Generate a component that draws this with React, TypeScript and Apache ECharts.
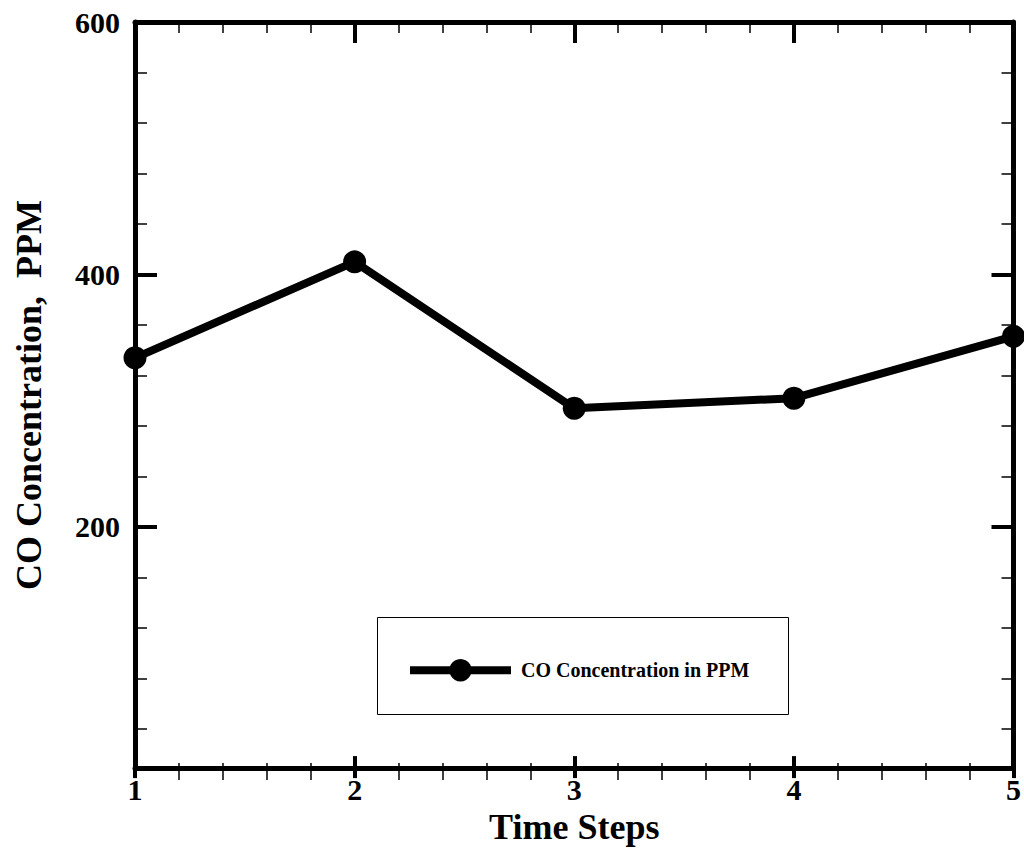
import React, { useEffect, useRef } from "react";
import * as echarts from "echarts";

const timeSteps = [1, 2, 3, 4, 5];
const coValues = [334, 410, 294, 302, 351];
const yMajorTicks = [200, 400, 600];
const yMinorTicks = [40, 80, 120, 160, 240, 280, 320, 360, 440, 480, 520, 560];
const seriesName = "CO Concentration in PPM";
const xTitle = "Time Steps";
const yTitle = "CO Concentration,  PPM";

const FONT = "'Liberation Serif', 'Times New Roman', serif";

export default function App() {
  const ref = useRef<HTMLDivElement>(null);
  useEffect(() => {
    if (!ref.current) return;
    const chart = echarts.init(ref.current, undefined, { renderer: "svg" });
    const black = "#000";
    const yBase = { type: "value", min: 9, max: 600, splitLine: { show: false } };
    const xBase = { type: "value", min: 1, max: 5, interval: 1, splitLine: { show: false } };
    chart.setOption({
      animation: false,
      backgroundColor: "#fff",
      grid: { left: 135, right: 9, top: 22, bottom: 81, containLabel: false },
      xAxis: [
        {
          ...xBase,
          position: "bottom",
          name: xTitle,
          nameLocation: "middle",
          nameGap: 35,
          nameTextStyle: { fontFamily: FONT, fontWeight: "bold", fontSize: 36, color: black },
          axisLine: { show: true, lineStyle: { color: black, width: 5 } },
          axisTick: { show: true, inside: false, length: 10, lineStyle: { color: black, width: 4 } },
          minorTick: { show: true, splitNumber: 5, length: 12, lineStyle: { color: black, width: 1.5 } },
          axisLabel: { show: true, margin: 6, fontFamily: FONT, fontWeight: "bold", fontSize: 30, color: black },
        },
        {
          ...xBase,
          position: "bottom",
          axisLine: { show: false },
          axisTick: { show: true, inside: true, length: 12, lineStyle: { color: black, width: 4 } },
          minorTick: { show: true, splitNumber: 5, length: 5, lineStyle: { color: black, width: 1.5 } },
          axisLabel: { show: false },
        },
        {
          ...xBase,
          position: "top",
          axisLine: { show: true, lineStyle: { color: black, width: 5 } },
          axisTick: { show: true, inside: true, length: 21, lineStyle: { color: black, width: 4 } },
          minorTick: { show: true, splitNumber: 5, length: 11, lineStyle: { color: black, width: 1.5 } },
          axisLabel: { show: false },
        },
      ],
      yAxis: [
        {
          ...yBase,
          position: "left",
          name: yTitle,
          nameLocation: "middle",
          nameGap: 88,
          nameTextStyle: { fontFamily: FONT, fontWeight: "bold", fontSize: 36, color: black },
          axisLine: { show: true, lineStyle: { color: black, width: 5 } },
          axisTick: { show: true, inside: true, length: 22, customValues: yMajorTicks, lineStyle: { color: black, width: 4 } },
          axisLabel: { show: true, margin: 15, customValues: yMajorTicks, fontFamily: FONT, fontWeight: "bold", fontSize: 30, color: black },
        },
        {
          ...yBase,
          position: "left",
          axisLine: { show: false },
          axisTick: { show: true, inside: true, length: 12, customValues: yMinorTicks, lineStyle: { color: black, width: 1.5 } },
          axisLabel: { show: false },
        },
        {
          ...yBase,
          position: "right",
          axisLine: { show: true, lineStyle: { color: black, width: 5 } },
          axisTick: { show: true, inside: true, length: 22, customValues: yMajorTicks, lineStyle: { color: black, width: 4 } },
          axisLabel: { show: false },
        },
        {
          ...yBase,
          position: "right",
          axisLine: { show: false },
          axisTick: { show: true, inside: true, length: 12, customValues: yMinorTicks, lineStyle: { color: black, width: 1.5 } },
          axisLabel: { show: false },
        },
      ],
      legend: {
        show: true,
        data: [seriesName],
        left: 406,
        top: 659,
        padding: 0,
        itemWidth: 101,
        itemHeight: 28,
        lineStyle: { width: 8 },
        textStyle: { fontFamily: FONT, fontWeight: "bold", fontSize: 20, color: black, padding: [0, 0, 0, 5] },
      },
      graphic: [
        {
          type: "rect",
          shape: { x: 377.5, y: 617.5, width: 411, height: 97 },
          style: { fill: "none", stroke: black, lineWidth: 1 },
          z: 10,
        },
      ],
      series: [
        {
          name: seriesName,
          type: "line",
          xAxisIndex: 0,
          yAxisIndex: 0,
          data: timeSteps.map((t, i) => [t, coValues[i]]),
          symbol: "circle",
          symbolSize: 23,
          clip: false,
          lineStyle: { color: black, width: 8 },
          itemStyle: { color: black },
          z: 5,
        },
      ],
    });
    return () => chart.dispose();
  }, []);
  return <div ref={ref} style={{ position: "fixed", left: 0, top: 0, width: 1024, height: 850 }} />;
}
